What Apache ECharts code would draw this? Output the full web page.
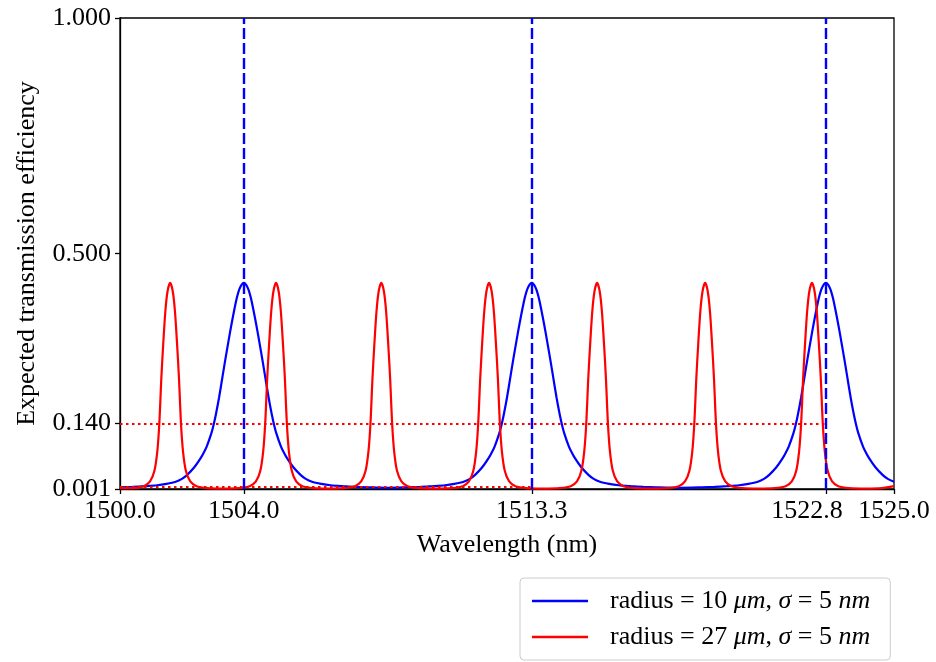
<!DOCTYPE html>
<html>
<head>
<meta charset="utf-8">
<script src="https://cdn.jsdelivr.net/npm/echarts@6/dist/echarts.min.js"></script>
<style>
  html, body { margin: 0; padding: 0; background: #ffffff; }
  #chart { width: 936px; height: 662px; }
</style>
</head>
<body>
<div id="chart"></div>
<script>
// Ring resonator transmission spectra: [wavelength (nm), expected transmission efficiency]

// radius = 10 um (three resonances)
const blueCurve = [
  [1500.0, 0.0045], [1500.4, 0.0055], [1500.8, 0.007], [1501.2, 0.009], [1501.5, 0.012],
  [1501.8, 0.0165], [1502.0, 0.0225], [1502.17, 0.031], [1502.4, 0.047], [1502.6, 0.066],
  [1502.7, 0.0775], [1502.8, 0.091], [1502.95, 0.119], [1503.03, 0.139], [1503.1, 0.16],
  [1503.2, 0.195], [1503.32, 0.243], [1503.4, 0.275], [1503.5, 0.313], [1503.6, 0.35],
  [1503.7, 0.384], [1503.78, 0.408], [1503.85, 0.424], [1503.925, 0.434], [1504.0, 0.438],
  [1504.075, 0.434], [1504.15, 0.424], [1504.22, 0.408], [1504.3, 0.384], [1504.4, 0.35],
  [1504.5, 0.313], [1504.6, 0.275], [1504.68, 0.243], [1504.8, 0.195], [1504.9, 0.16],
  [1504.97, 0.139], [1505.05, 0.119], [1505.2, 0.091], [1505.3, 0.0775], [1505.4, 0.066],
  [1505.6, 0.047], [1505.83, 0.031], [1506.0, 0.0225], [1506.2, 0.0165], [1506.5, 0.012],
  [1506.8, 0.009], [1507.2, 0.007], [1507.6, 0.0055], [1508.0, 0.0045], [1508.65, 0.0035],
  [1509.3, 0.0045], [1509.7, 0.0055], [1510.1, 0.007], [1510.5, 0.009], [1510.8, 0.012],
  [1511.1, 0.0165], [1511.3, 0.0225], [1511.47, 0.031], [1511.7, 0.047], [1511.9, 0.066],
  [1512.0, 0.0775], [1512.1, 0.091], [1512.25, 0.119], [1512.33, 0.139], [1512.4, 0.16],
  [1512.5, 0.195], [1512.62, 0.243], [1512.7, 0.275], [1512.8, 0.313], [1512.9, 0.35],
  [1513.0, 0.384], [1513.08, 0.408], [1513.15, 0.424], [1513.225, 0.434], [1513.3, 0.438],
  [1513.375, 0.434], [1513.45, 0.424], [1513.52, 0.408], [1513.6, 0.384], [1513.7, 0.35],
  [1513.8, 0.313], [1513.9, 0.275], [1513.98, 0.243], [1514.1, 0.195], [1514.2, 0.16],
  [1514.27, 0.139], [1514.35, 0.119], [1514.5, 0.091], [1514.6, 0.0775], [1514.7, 0.066],
  [1514.9, 0.047], [1515.13, 0.031], [1515.3, 0.0225], [1515.5, 0.0165], [1515.8, 0.012],
  [1516.1, 0.009], [1516.5, 0.007], [1516.9, 0.0055], [1517.3, 0.0045], [1518.05, 0.0035],
  [1518.8, 0.0045], [1519.2, 0.0055], [1519.6, 0.007], [1520.0, 0.009], [1520.3, 0.012],
  [1520.6, 0.0165], [1520.8, 0.0225], [1520.97, 0.031], [1521.2, 0.047], [1521.4, 0.066],
  [1521.5, 0.0775], [1521.6, 0.091], [1521.75, 0.119], [1521.83, 0.139], [1521.9, 0.16],
  [1522.0, 0.195], [1522.12, 0.243], [1522.2, 0.275], [1522.3, 0.313], [1522.4, 0.35],
  [1522.5, 0.384], [1522.58, 0.408], [1522.65, 0.424], [1522.725, 0.434], [1522.8, 0.438],
  [1522.875, 0.434], [1522.95, 0.424], [1523.02, 0.408], [1523.1, 0.384], [1523.2, 0.35],
  [1523.3, 0.313], [1523.4, 0.275], [1523.48, 0.243], [1523.6, 0.195], [1523.7, 0.16],
  [1523.77, 0.139], [1523.85, 0.119], [1524.0, 0.091], [1524.1, 0.0775], [1524.2, 0.066],
  [1524.4, 0.047], [1524.63, 0.031], [1524.8, 0.0225], [1525.0, 0.0165]
];

// radius = 27 um (seven resonances)
const redCurve = [
  [1500.0, 0.003], [1500.42, 0.003], [1500.77, 0.007], [1500.97, 0.017], [1501.11, 0.039],
  [1501.205, 0.081], [1501.27, 0.14], [1501.335, 0.236], [1501.395, 0.307], [1501.465, 0.378],
  [1501.535, 0.42], [1501.62, 0.438], [1501.705, 0.42], [1501.775, 0.378], [1501.845, 0.307],
  [1501.905, 0.236], [1501.97, 0.14], [1502.035, 0.081], [1502.13, 0.039], [1502.27, 0.017],
  [1502.47, 0.007], [1502.82, 0.003], [1503.33, 0.002],
  [1503.84, 0.003], [1504.19, 0.007], [1504.39, 0.017], [1504.53, 0.039], [1504.625, 0.081],
  [1504.69, 0.14], [1504.755, 0.236], [1504.815, 0.307], [1504.885, 0.378], [1504.955, 0.42],
  [1505.04, 0.438], [1505.125, 0.42], [1505.195, 0.378], [1505.265, 0.307], [1505.325, 0.236],
  [1505.39, 0.14], [1505.455, 0.081], [1505.55, 0.039], [1505.69, 0.017], [1505.89, 0.007],
  [1506.24, 0.003], [1506.74, 0.002],
  [1507.24, 0.003], [1507.59, 0.007], [1507.79, 0.017], [1507.93, 0.039], [1508.025, 0.081],
  [1508.09, 0.14], [1508.155, 0.236], [1508.215, 0.307], [1508.285, 0.378], [1508.355, 0.42],
  [1508.44, 0.438], [1508.525, 0.42], [1508.595, 0.378], [1508.665, 0.307], [1508.725, 0.236],
  [1508.79, 0.14], [1508.855, 0.081], [1508.95, 0.039], [1509.09, 0.017], [1509.29, 0.007],
  [1509.64, 0.003], [1510.18, 0.002],
  [1510.72, 0.003], [1511.07, 0.007], [1511.27, 0.017], [1511.41, 0.039], [1511.505, 0.081],
  [1511.57, 0.14], [1511.635, 0.236], [1511.695, 0.307], [1511.765, 0.378], [1511.835, 0.42],
  [1511.92, 0.438], [1512.005, 0.42], [1512.075, 0.378], [1512.145, 0.307], [1512.205, 0.236],
  [1512.27, 0.14], [1512.335, 0.081], [1512.43, 0.039], [1512.57, 0.017], [1512.77, 0.007],
  [1513.12, 0.003], [1513.66, 0.002],
  [1514.21, 0.003], [1514.56, 0.007], [1514.76, 0.017], [1514.9, 0.039], [1514.995, 0.081],
  [1515.06, 0.14], [1515.125, 0.236], [1515.185, 0.307], [1515.255, 0.378], [1515.325, 0.42],
  [1515.41, 0.438], [1515.495, 0.42], [1515.565, 0.378], [1515.635, 0.307], [1515.695, 0.236],
  [1515.76, 0.14], [1515.825, 0.081], [1515.92, 0.039], [1516.06, 0.017], [1516.26, 0.007],
  [1516.61, 0.003], [1517.15, 0.002],
  [1517.7, 0.003], [1518.05, 0.007], [1518.25, 0.017], [1518.39, 0.039], [1518.485, 0.081],
  [1518.55, 0.14], [1518.615, 0.236], [1518.675, 0.307], [1518.745, 0.378], [1518.815, 0.42],
  [1518.9, 0.438], [1518.985, 0.42], [1519.055, 0.378], [1519.125, 0.307], [1519.185, 0.236],
  [1519.25, 0.14], [1519.315, 0.081], [1519.41, 0.039], [1519.55, 0.017], [1519.75, 0.007],
  [1520.1, 0.003], [1520.62, 0.002],
  [1521.15, 0.003], [1521.5, 0.007], [1521.7, 0.017], [1521.84, 0.039], [1521.935, 0.081],
  [1522.0, 0.14], [1522.065, 0.236], [1522.125, 0.307], [1522.195, 0.378], [1522.265, 0.42],
  [1522.35, 0.438], [1522.435, 0.42], [1522.505, 0.378], [1522.575, 0.307], [1522.635, 0.236],
  [1522.7, 0.14], [1522.765, 0.081], [1522.86, 0.039], [1523.0, 0.017], [1523.2, 0.007],
  [1523.55, 0.003], [1524.1, 0.002], [1524.6, 0.003], [1525.0, 0.007]
];

// Resonance wavelengths of the 10 um ring (vertical markers)
const resonanceLines = [1504.0, 1513.3, 1522.8];
// Reference levels: [level, end wavelength]
const thresholdLines = [[0.140, 1522.8], [0.005, 1513.3]];

// Axis ticks; the 1522.8 label sits on its own axis, nudged left of the crowded edge
const xTicks = [1500.0, 1504.0, 1513.3, 1522.8, 1525.0];
const xLabelsMain = [1500.0, 1504.0, 1513.3, 1525.0];
const xLabelsShifted = [1522.8];
const yTicks = [0.001, 0.140, 0.500, 1.000];

// Legend text pieces
const radii = [10, 27];
const sigmaNm = 5;

const FONT = "'Liberation Serif', 'Times New Roman', serif";
const BLUE = '#0000ff';
const RED = '#ff0000';

const chart = echarts.init(document.getElementById('chart'), null, { renderer: 'canvas' });

const legendNames = radii.map(r => 'radius = ' + r + ' μm, σ = ' + sigmaNm + ' nm');

function legendRich(name) {
  const r = radii[legendNames.indexOf(name)];
  return '{pad|}{t|radius = ' + r + ' }{i|μm}{t|, }{i|σ}{t| = ' + sigmaNm + ' }{i|nm}';
}

const axisLineStyle = { color: '#000000', width: 1.3 };
const labelFont = { fontFamily: FONT, fontSize: 26, color: '#000000' };

const option = {
  animation: false,
  backgroundColor: '#ffffff',
  grid: {
    left: 120, top: 18, right: 42, bottom: 173,
    show: true, borderColor: '#000000', borderWidth: 1.3,
    containLabel: false
  },
  legend: {
    orient: 'vertical',
    left: 520, top: 578,
    padding: [10, 20, 10, 12],
    icon: 'rect',
    itemWidth: 56, itemHeight: 2.4, itemGap: 10,
    backgroundColor: 'rgba(255,255,255,0.8)',
    borderColor: '#cccccc', borderWidth: 1, borderRadius: 4,
    data: legendNames,
    formatter: legendRich,
    textStyle: {
      fontFamily: FONT, fontSize: 26, color: '#000000', lineHeight: 26,
      rich: {
        pad: { width: 17 },
        t: { fontFamily: FONT, fontSize: 26, color: '#000000' },
        i: { fontFamily: FONT, fontSize: 26, fontStyle: 'italic', color: '#000000' }
      }
    }
  },
  xAxis: [
    {
      type: 'value', min: 1500, max: 1525,
      name: 'Wavelength (nm)', nameLocation: 'middle', nameGap: 43,
      nameTextStyle: labelFont,
      axisLine: { show: true, onZero: false, lineStyle: axisLineStyle },
      axisTick: { show: true, inside: false, length: 5, lineStyle: axisLineStyle, customValues: xTicks },
      axisLabel: Object.assign({
        show: true, margin: 9, customValues: xLabelsMain,
        showMinLabel: true, showMaxLabel: true,
        formatter: v => v.toFixed(1)
      }, labelFont),
      splitLine: { show: false }
    },
    {
      type: 'value', min: 1500, max: 1525, position: 'bottom',
      axisLine: { show: false },
      axisTick: { show: false },
      axisLabel: Object.assign({
        show: true, margin: 9, customValues: xLabelsShifted,
        formatter: v => '{s|' + v.toFixed(1) + '}',
        rich: { s: Object.assign({ padding: [0, 38, 0, 0] }, labelFont) }
      }, labelFont),
      splitLine: { show: false }
    }
  ],
  yAxis: {
    type: 'value', min: 0.001, max: 1.0,
    name: 'Expected transmission efficiency', nameLocation: 'middle', nameGap: 80,
    nameRotate: 90,
    nameTextStyle: labelFont,
    axisLine: { show: true, onZero: false, lineStyle: axisLineStyle },
    axisTick: { show: true, inside: false, length: 5, lineStyle: axisLineStyle, customValues: yTicks },
    axisLabel: Object.assign({
      show: true, margin: 9, customValues: yTicks,
      showMinLabel: true, showMaxLabel: true,
      formatter: v => v.toFixed(3)
    }, labelFont),
    splitLine: { show: false }
  },
  series: [
    {
      name: legendNames[0],
      type: 'line',
      data: blueCurve,
      symbol: 'none',
      smooth: 0.3,
      lineStyle: { color: BLUE, width: 2.2 },
      itemStyle: { color: BLUE },
      z: 2,
      markLine: {
        silent: true, symbol: 'none',
        label: { show: false },
        lineStyle: { color: BLUE, width: 2.4, type: [11, 4] },
        emphasis: { disabled: true },
        data: resonanceLines.map(x => ({ xAxis: x }))
      }
    },
    {
      name: legendNames[1],
      type: 'line',
      data: redCurve,
      symbol: 'none',
      smooth: 0.3,
      lineStyle: { color: RED, width: 2.2 },
      itemStyle: { color: RED },
      z: 3,
      markLine: {
        silent: true, symbol: 'none',
        label: { show: false },
        lineStyle: { color: RED, width: 2.2, type: [2.5, 3.5] },
        emphasis: { disabled: true },
        data: thresholdLines.map(([level, end]) => [
          { coord: [1500, level] },
          { coord: [end, level] }
        ])
      }
    }
  ]
};

chart.setOption(option);
</script>
</body>
</html>
